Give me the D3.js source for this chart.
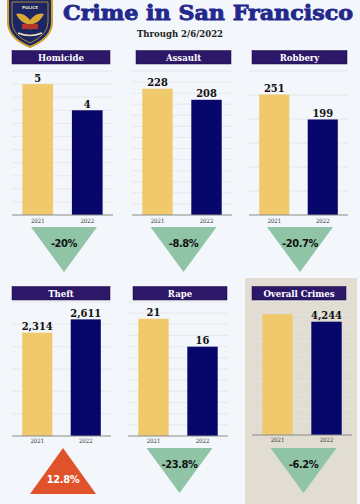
<!DOCTYPE html>
<html><head><meta charset="utf-8">
<script src="https://cdn.jsdelivr.net/npm/d3@7"></script>
<style>body{margin:0;background:#f3f6fa;} svg{display:block}</style>
</head><body><svg id="c" width="360" height="504"></svg>
<script>
// ---- data ----
const crimes = ["Homicide", "Assault", "Robbery", "Theft", "Rape", "Overall Crimes"];
const years = ["2021", "2022"];
const values2021 = [5, 228, 251, 2314, 21, 4524];
const values2022 = [4, 208, 199, 2611, 16, 4244];
const showLabel2021 = [true, true, true, true, true, false];
const changes = ["-20%", "-8.8%", "-20.7%", "12.8%", "-23.8%", "-6.2%"];
const changeValues = [-20, -8.8, -20.7, 12.8, -23.8, -6.2];
const axisMax = [5.5, 260, 300, 3000, 24, 5000];
const tickStep = [0.5, 20, 50, 500, 2, 500];
const titleText = "Crime in San Francisco";
const subtitleText = "Through 2/6/2022";

// ---- layout ----
const layout = [
  {x0: 12, x1: 113, hx0: 12, hx1: 110, hy: 50.5, base: 215, top: 71, tri: 227, yl: 223},
  {x0: 132, x1: 232, hx0: 136, hx1: 231, hy: 50.5, base: 215, top: 71, tri: 227, yl: 223},
  {x0: 249, x1: 348, hx0: 252, hx1: 347, hy: 50.5, base: 215, top: 71, tri: 227, yl: 223},
  {x0: 12, x1: 111, hx0: 12, hx1: 110, hy: 286.5, base: 436, top: 302, tri: 448, yl: 443},
  {x0: 128, x1: 228, hx0: 133, hx1: 227, hy: 286.5, base: 436, top: 302, tri: 448, yl: 443},
  {x0: 252, x1: 352, hx0: 252, hx1: 346, hy: 286.5, base: 435, top: 301.5, tri: 448, yl: 442}
];
const colors = {bg: "#f3f6fa", gold: "#efc96c", navy: "#07076b", header: "#2c1768",
  grid: "#e3e5e8", axis: "#8a8a8a", green: "#8fc5a6", red: "#e0522a", beige: "#e2ddd3", title: "#23288c"};
const serif = "'DejaVu Serif Condensed','DejaVu Serif',serif";
const narrow = "'Liberation Sans Narrow','DejaVu Sans Condensed','Liberation Sans',sans-serif";

const svg = d3.select("#c");
svg.append("rect").attr("width", 360).attr("height", 504).attr("fill", colors.bg);

// beige panel behind Overall Crimes
svg.append("rect").attr("x", 245).attr("y", 278).attr("width", 112).attr("height", 226).attr("fill", colors.beige);

// title
svg.append("text").attr("x", 208).attr("y", 19.5).attr("text-anchor", "middle")
  .attr("font-family", serif).attr("font-weight", "bold").attr("font-size", 20.5)
  .attr("fill", colors.title).attr("stroke", colors.title).attr("stroke-width", 0.8)
  .attr("textLength", 290).attr("lengthAdjust", "spacingAndGlyphs")
  .text(titleText);
svg.append("text").attr("x", 180).attr("y", 36.5).attr("text-anchor", "middle")
  .attr("font-family", serif).attr("font-weight", "bold").attr("font-size", 9.5)
  .attr("fill", "#222").text(subtitleText);

// badge
const badge = svg.append("g");
badge.append("path").attr("d", "M8,-2 L52,-2 L52,22 Q52,38 30,47 Q8,38 8,22 Z")
  .attr("fill", "#1d2562").attr("stroke", "#c9a233").attr("stroke-width", 2);
badge.append("path").attr("d", "M12,2 L48,2 L48,22 Q48,35 30,43 Q12,35 12,22 Z")
  .attr("fill", "none").attr("stroke", "#c9a233").attr("stroke-width", 0.8);
badge.append("text").attr("x", 30).attr("y", 9).attr("text-anchor", "middle").attr("font-size", 4)
  .attr("font-family", "DejaVu Sans").attr("font-weight", "bold").attr("fill", "#e8e0c0").text("POLICE");
badge.append("path").attr("d", "M16,14 Q23,12 30,20 Q37,12 44,14 Q40,22 33,24 L30,30 L27,24 Q20,22 16,14 Z")
  .attr("fill", "#d9a935");
badge.append("rect").attr("x", 22).attr("y", 24).attr("width", 16).attr("height", 5).attr("fill", "#b8352a");
badge.append("path").attr("d", "M18,33 Q30,38 42,33").attr("fill", "none").attr("stroke", "#e8e0c0").attr("stroke-width", 1.5);

crimes.forEach((name, i) => {
  const L = layout[i];
  const g = svg.append("g");
  const x = d3.scaleBand().domain(years).range([L.x0, L.x1]).paddingInner(0.38).paddingOuter(0.21);
  const y = d3.scaleLinear().domain([0, axisMax[i]]).range([L.base, L.top]);
  const ticks = d3.range(0, axisMax[i] + tickStep[i] / 2, tickStep[i]).filter(t => t > 0);

  // gridlines
  g.selectAll(".grid").data(ticks).join("line")
    .attr("x1", L.x0).attr("x2", L.x1).attr("y1", d => y(d)).attr("y2", d => y(d))
    .attr("stroke", colors.grid).attr("stroke-width", 0.8);

  // header
  g.append("rect").attr("x", L.hx0).attr("y", L.hy).attr("width", L.hx1 - L.hx0).attr("height", 13.5)
    .attr("fill", colors.header).attr("stroke", "#1a0d45").attr("stroke-width", 0.5);
  g.append("text").attr("x", (L.hx0 + L.hx1) / 2).attr("y", L.hy + 10).attr("text-anchor", "middle")
    .attr("font-family", serif).attr("font-weight", "bold").attr("font-size", 9.5)
    .attr("fill", "#fff").text(name);

  const vals = [values2021[i], values2022[i]];
  const fills = [colors.gold, colors.navy];
  g.selectAll(".bar").data(years).join("rect")
    .attr("x", d => x(d)).attr("width", x.bandwidth())
    .attr("y", (d, j) => y(vals[j])).attr("height", (d, j) => y(0) - y(vals[j]))
    .attr("fill", (d, j) => fills[j]);

  // value labels
  g.selectAll(".val").data(years).join("text")
    .filter((d, j) => j === 1 || showLabel2021[i])
    .attr("x", d => x(d) + x.bandwidth() / 2)
    .attr("y", d => y(vals[years.indexOf(d)]) - 2.5)
    .attr("text-anchor", "middle").attr("font-family", serif).attr("font-weight", "bold")
    .attr("font-size", 11).attr("fill", "#111")
    .text(d => d3.format(",")(vals[years.indexOf(d)]));

  // baseline axis
  const ax = g.append("g").attr("transform", `translate(0,${L.base})`)
    .call(d3.axisBottom(x).tickSize(0).tickPadding(0));
  ax.select(".domain").attr("stroke", colors.axis).attr("stroke-width", 1).attr("d", `M${L.x0},0H${L.x1}`);
  ax.selectAll("text").attr("y", L.yl - L.base).attr("dy", 0).attr("font-family", serif)
    .attr("font-size", 6).attr("fill", "#333");

  // change triangle
  const cx = (L.x0 + L.x1) / 2 + 1.5;
  const w = 33, h = 45;
  const up = changeValues[i] > 0;
  const pts = up
    ? [[cx - w, L.tri + h + 1], [cx + w, L.tri + h + 1], [cx, L.tri]]
    : [[cx - w, L.tri], [cx + w, L.tri], [cx, L.tri + h]];
  g.append("path").attr("d", d3.line()(pts) + "Z").attr("fill", up ? colors.red : colors.green);
  g.append("text").attr("x", cx).attr("y", up ? L.tri + 35 : L.tri + 19.5)
    .attr("text-anchor", "middle").attr("font-family", narrow).attr("font-weight", "bold")
    .attr("font-size", 11).attr("letter-spacing", -0.4).attr("fill", up ? "#fff" : "#111").text(changes[i]);
});
</script></body></html>
